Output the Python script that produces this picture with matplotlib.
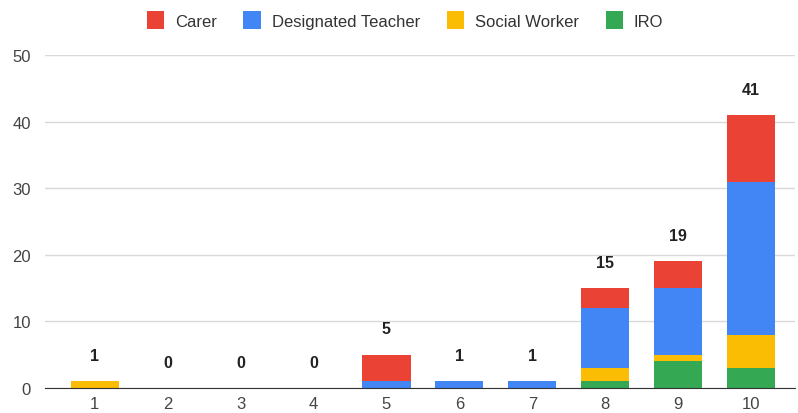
import numpy as np
import matplotlib.pyplot as plt

plt.rcParams['font.family'] = ['Liberation Sans', 'DejaVu Sans']

# data
weeks = ['1', '2', '3', '4', '5', '6', '7', '8', '9', '10']
iro = [0, 0, 0, 0, 0, 0, 0, 1, 4, 3]
social_worker = [1, 0, 0, 0, 0, 0, 0, 2, 1, 5]
designated_teacher = [0, 0, 0, 0, 1, 1, 1, 9, 10, 23]
carer = [0, 0, 0, 0, 4, 0, 0, 3, 4, 10]

series = [('IRO', iro, '#34a853'),
          ('Social Worker', social_worker, '#fbbc04'),
          ('Designated Teacher', designated_teacher, '#4285f4'),
          ('Carer', carer, '#ea4335')]

fig = plt.figure(figsize=(7.98, 4.14), dpi=100)
ax = fig.add_axes([45/798, 1-389/414, 750/798, 333/414])

x = np.arange(1, len(weeks) + 1)
bottom = np.zeros(len(weeks))
handles = {}
for name, vals, col in series:
    vals = np.array(vals)
    b = ax.bar(x, vals, 0.66, bottom=bottom, color=col, zorder=3, label=name)
    handles[name] = b
    bottom += vals

for xi, tot in zip(x, bottom):
    ax.text(xi, tot + 2.75, '%d' % tot, ha='center', va='bottom',
            fontsize=11.5, fontweight='bold', color='#222222')

ax.set_xlim(0.32, 10.6)
ax.set_ylim(0, 50)
ax.set_yticks([0, 10, 20, 30, 40, 50])
ax.set_xticks(x)
ax.set_xticklabels(weeks)
ax.grid(axis='y', color='#d9d9d9', lw=1, zorder=0)
for s in ['top', 'right', 'left']:
    ax.spines[s].set_visible(False)
ax.spines['bottom'].set_color('#333333')
ax.spines['bottom'].set_zorder(4)
ax.tick_params(length=0, labelsize=12, colors='#444444')
ax.tick_params(axis='y', pad=10)
ax.tick_params(axis='x', pad=6)

order = ['Carer', 'Designated Teacher', 'Social Worker', 'IRO']
fig.legend([handles[n] for n in order], order, loc='center', ncol=4,
           bbox_to_anchor=(405/798, 1-21/414), frameon=False, fontsize=12,
           handlelength=1.05, handleheight=1.25, columnspacing=1.6,
           handletextpad=0.65, labelcolor='#333333')

fig.savefig('out.png', dpi=100)
